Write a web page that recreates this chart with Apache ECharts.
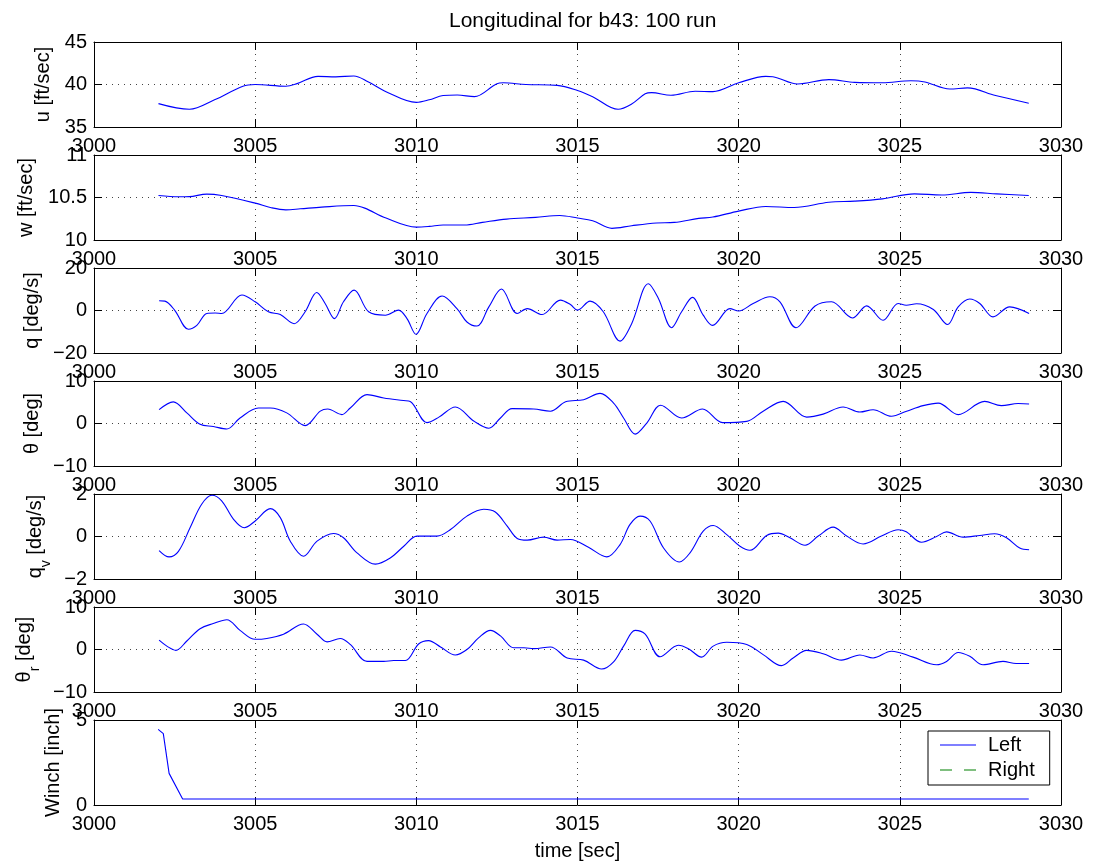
<!DOCTYPE html>
<html>
<head>
<meta charset="utf-8">
<script src="https://cdn.jsdelivr.net/npm/echarts@6/dist/echarts.min.js"></script>
<style>
  html, body { margin: 0; padding: 0; background: #fff; }
  #chart { width: 1093px; height: 865px; }
</style>
</head>
<body>
<div id="chart"></div>
<script>
// Longitudinal flight data, run 100 of b43: [time (s), value]
const uData = [[3002.0,37.75],[3002.96,37.08],[3003.74,38.2],[3004.62,39.8],[3005.0,40.0],[3005.95,39.8],[3006.3,40.1],[3006.95,40.96],[3007.5,40.9],[3008.06,41.0],[3008.5,40.33],[3009.06,39.16],[3010.0,37.9],[3010.4,38.2],[3010.83,38.7],[3011.27,38.76],[3011.8,38.57],[3012.5,40.1],[3012.7,40.2],[3013.4,40.0],[3014.37,39.9],[3015.0,39.3],[3015.47,38.57],[3016.26,37.08],[3016.68,37.7],[3017.1,38.9],[3017.3,39.04],[3017.9,38.73],[3018.65,39.2],[3019.2,39.16],[3020.0,40.2],[3020.84,40.96],[3021.06,40.92],[3021.83,40.06],[3022.8,40.57],[3023.6,40.25],[3024.46,40.2],[3025.34,40.45],[3025.78,40.3],[3026.55,39.47],[3027.1,39.6],[3027.97,38.7],[3029.0,37.8]];

const wData = [[3002.0,10.523],[3002.63,10.508],[3002.96,10.51],[3003.5,10.54],[3003.96,10.523],[3005.0,10.434],[3005.5,10.38],[3005.95,10.355],[3006.4,10.367],[3007.06,10.387],[3008.06,10.406],[3008.4,10.375],[3009.06,10.258],[3010.0,10.152],[3010.4,10.16],[3010.83,10.176],[3011.5,10.176],[3012.05,10.207],[3012.8,10.246],[3013.7,10.266],[3014.45,10.288],[3015.0,10.258],[3015.47,10.227],[3016.07,10.137],[3016.68,10.168],[3017.45,10.2],[3018.0,10.207],[3018.76,10.254],[3019.2,10.27],[3020.0,10.34],[3020.84,10.395],[3021.72,10.383],[3022.8,10.445],[3023.6,10.457],[3024.46,10.484],[3025.45,10.543],[3026.3,10.53],[3027.2,10.56],[3028.0,10.543],[3029.0,10.523]];

const qData = [[3002.02,4.6],[3002.2,4.4],[3002.5,0.2],[3002.93,-8.8],[3003.19,-7.0],[3003.5,-1.4],[3003.76,-1.2],[3003.96,-1.4],[3004.59,7.3],[3005.0,4.1],[3005.41,-0.6],[3005.78,-1.9],[3006.21,-6.2],[3006.55,-0.6],[3006.91,8.5],[3007.17,3.3],[3007.46,-3.8],[3007.74,4.1],[3008.07,9.6],[3008.52,-0.6],[3009.04,-2.2],[3009.45,0.2],[3009.71,-3.8],[3009.99,-11.2],[3010.33,-1.4],[3010.8,6.8],[3011.26,0.9],[3011.57,-5.4],[3011.88,-7.3],[3012.25,1.7],[3012.64,10.1],[3013.13,-1.4],[3013.44,0.9],[3013.9,-1.9],[3014.47,4.9],[3014.78,2.8],[3015.0,0.2],[3015.39,4.4],[3015.8,-0.6],[3016.32,-14.4],[3016.68,-6.2],[3017.2,12.6],[3017.51,5.7],[3017.92,-8.1],[3018.23,-0.6],[3018.57,6.2],[3018.9,-2.2],[3019.19,-7.0],[3019.73,0.9],[3020.0,-0.2],[3020.45,3.3],[3020.97,6.5],[3021.28,4.1],[3021.78,-8.1],[3022.37,2.1],[3022.88,4.1],[3023.53,-3.5],[3023.97,2.2],[3024.48,-4.6],[3024.95,3.3],[3025.2,2.5],[3025.52,3.2],[3026.04,0.5],[3026.48,-6.6],[3026.81,1.7],[3027.17,5.4],[3027.48,3.3],[3027.89,-3.0],[3028.41,1.7],[3029.01,-1.4]];

const thetaData = [[3002.02,3.25],[3002.46,5.1],[3002.88,2.5],[3003.29,-0.2],[3003.7,-0.7],[3004.12,-1.3],[3004.53,1.3],[3005.1,3.65],[3005.47,3.65],[3005.98,2.5],[3006.55,-0.5],[3007.02,2.9],[3007.25,3.4],[3007.69,2.1],[3007.95,3.65],[3008.47,6.8],[3008.99,6.0],[3009.6,5.4],[3009.81,5.2],[3010.33,0.2],[3010.7,1.5],[3011.21,3.9],[3011.78,0.6],[3012.25,-1.1],[3012.61,1.3],[3012.97,3.5],[3013.64,3.4],[3014.16,2.9],[3014.63,5.1],[3015.19,5.6],[3015.7,7.1],[3016.12,4.8],[3016.43,1.3],[3016.79,-2.5],[3017.15,0.1],[3017.58,4.3],[3018.23,1.3],[3018.88,3.4],[3019.5,0.2],[3020.25,0.5],[3020.76,2.9],[3021.38,5.2],[3022.11,1.5],[3022.62,2.2],[3023.24,3.9],[3023.76,2.7],[3024.17,3.25],[3024.74,1.7],[3025.21,2.9],[3025.72,4.2],[3026.19,4.8],[3026.81,2.1],[3027.63,5.2],[3028.15,4.2],[3028.67,4.7],[3029.01,4.6]];

const qvData = [[3002.02,-0.66],[3002.33,-0.96],[3002.62,-0.7],[3002.98,0.41],[3003.34,1.52],[3003.66,1.94],[3003.96,1.68],[3004.33,0.81],[3004.66,0.41],[3005.0,0.73],[3005.47,1.31],[3005.78,0.89],[3006.09,-0.22],[3006.5,-0.93],[3006.92,-0.22],[3007.43,0.14],[3007.74,-0.06],[3008.16,-0.77],[3008.73,-1.3],[3009.19,-1.01],[3009.61,-0.46],[3010.02,0.02],[3010.64,0.02],[3011.06,0.33],[3011.57,0.96],[3012.09,1.28],[3012.45,1.15],[3012.82,0.49],[3013.13,-0.09],[3013.44,-0.17],[3013.95,-0.03],[3014.37,-0.17],[3014.78,-0.14],[3015.34,-0.51],[3015.91,-0.96],[3016.32,-0.38],[3016.63,0.57],[3016.94,0.96],[3017.25,0.73],[3017.67,-0.54],[3018.16,-1.2],[3018.49,-0.77],[3018.9,0.25],[3019.21,0.52],[3019.63,0.09],[3020.04,-0.46],[3020.35,-0.65],[3020.87,0.05],[3021.23,0.16],[3021.59,-0.06],[3022.06,-0.41],[3022.47,0.02],[3022.93,0.44],[3023.35,0.02],[3023.86,-0.35],[3024.43,0.02],[3024.95,0.32],[3025.2,0.22],[3025.67,-0.27],[3026.14,0.0],[3026.45,0.22],[3026.96,-0.03],[3027.48,0.05],[3027.94,0.13],[3028.31,-0.06],[3028.72,-0.54],[3029.01,-0.62]];

const thetaRData = [[3002.02,2.2],[3002.26,0.8],[3002.54,-0.2],[3002.88,2.0],[3003.29,4.9],[3003.7,6.1],[3004.12,7.0],[3004.53,4.5],[3005.0,2.4],[3005.36,2.6],[3005.88,3.6],[3006.5,6.0],[3006.92,3.6],[3007.23,1.8],[3007.64,2.6],[3007.95,1.2],[3008.47,-2.8],[3008.99,-2.8],[3009.3,-2.6],[3009.66,-2.6],[3010.07,1.3],[3010.38,2.1],[3010.75,0.6],[3011.21,-1.3],[3011.57,0.0],[3011.94,2.8],[3012.3,4.5],[3012.61,3.2],[3013.02,0.4],[3013.34,0.4],[3013.65,0.2],[3014.16,0.6],[3014.68,-2.0],[3015.19,-2.5],[3015.75,-4.6],[3016.12,-2.9],[3016.43,0.8],[3016.79,4.5],[3017.1,3.6],[3017.56,-1.7],[3018.13,1.0],[3018.44,0.2],[3018.85,-1.8],[3019.21,0.8],[3019.63,1.7],[3020.25,1.2],[3020.76,-1.2],[3021.33,-3.8],[3021.69,-2.0],[3022.11,-0.2],[3022.62,-1.0],[3023.19,-2.5],[3023.76,-1.3],[3024.17,-2.0],[3024.74,-0.4],[3025.41,-1.8],[3026.14,-3.6],[3026.45,-2.8],[3026.81,-0.7],[3027.17,-1.6],[3027.58,-3.6],[3028.2,-2.8],[3028.61,-3.3],[3029.01,-3.3]];

const winchLeft = [[3001.99,4.45],[3002.15,4.2],[3002.33,1.86],[3002.75,0.35],[3029.0,0.35]];
const winchRight = [];

const xTicks = [3000, 3005, 3010, 3015, 3020, 3025, 3030];
// y range per panel: [min, max]
const yRanges = [[35, 45], [10, 11], [-20, 20], [-10, 10], [-2, 2], [-10, 10], [0, 5]];
const yNames = [
  'u [ft/sec]',
  'w [ft/sec]',
  'q [deg/s]',
  'θ [deg]',
  '{m|q}{s|v}{m| [deg/s]}',
  '{m|θ}{s|r}{m| [deg]}',
  'Winch [inch]'
];
const yNameGaps = [41, 58, 50, 50, 40, 52, 31];
const panelSeries = [uData, wData, qData, thetaData, qvData, thetaRData, winchLeft];
const legendNames = ['Left', 'Right'];

const FONT = 'Liberation Sans, Arial, Helvetica, sans-serif';
const PANEL_TOP = 42, PANEL_STEP = 113, PANEL_H = 85;
const LEFT_COLOR = '#0000ff', RIGHT_COLOR = '#008000';

const grids = [], xAxes = [], yAxes = [], series = [];
const dotted = { color: '#444', width: 1, type: [1, 5] };
const tickStyle = { color: '#000', width: 1 };
const plain = function (v) { return String(v).replace('-', '\u2212'); };

yRanges.forEach(function (r, i) {
  grids.push({ left: 94, right: 32, top: PANEL_TOP + PANEL_STEP * i, height: PANEL_H });
  const xmin = xTicks[0], xmax = xTicks[xTicks.length - 1];
  const xInt = xTicks[1] - xTicks[0];
  // bottom x axis with labels and vertical grid
  xAxes.push({
    type: 'value', gridIndex: i, position: 'bottom', min: xmin, max: xmax, interval: xInt,
    axisLine: { show: true, onZero: false, lineStyle: { color: '#000', width: 1 } },
    axisTick: { show: true, inside: true, length: 8, lineStyle: tickStyle },
    axisLabel: { show: true, margin: 9, color: '#000', fontSize: 20, fontFamily: FONT, formatter: plain },
    splitLine: { show: true, showMinLine: false, showMaxLine: false, lineStyle: dotted },
    name: i === yRanges.length - 1 ? 'time [sec]' : '',
    nameLocation: 'middle', nameGap: 36,
    nameTextStyle: { color: '#000', fontSize: 20, fontFamily: FONT }
  });
  // top x axis: frame and ticks only
  xAxes.push({
    type: 'value', gridIndex: i, position: 'top', min: xmin, max: xmax, interval: xInt,
    axisLine: { show: true, onZero: false, lineStyle: { color: '#000', width: 1 } },
    axisTick: { show: true, inside: true, length: 8, lineStyle: tickStyle },
    axisLabel: { show: false }, splitLine: { show: false }
  });
  const yInt = i === yRanges.length - 1 ? (r[1] - r[0]) : (r[1] - r[0]) / 2;
  yAxes.push({
    type: 'value', gridIndex: i, position: 'left', min: r[0], max: r[1], interval: yInt,
    axisLine: { show: true, onZero: false, lineStyle: { color: '#000', width: 1 } },
    axisTick: { show: true, inside: true, length: 8, lineStyle: tickStyle },
    axisLabel: { show: true, margin: 7, color: '#000', fontSize: 20, fontFamily: FONT, formatter: plain },
    splitLine: { show: true, showMinLine: false, showMaxLine: false, lineStyle: dotted },
    name: yNames[i], nameLocation: 'middle', nameGap: yNameGaps[i],
    nameTextStyle: {
      color: '#000', fontSize: 20, fontFamily: FONT,
      rich: {
        m: { fontSize: 20, fontFamily: FONT, color: '#000', verticalAlign: 'top', lineHeight: 20 },
        s: { fontSize: 14, fontFamily: FONT, color: '#000', verticalAlign: 'top', padding: [14, 0, 0, 0] }
      }
    }
  });
  yAxes.push({
    type: 'value', gridIndex: i, position: 'right', min: r[0], max: r[1], interval: yInt,
    axisLine: { show: true, onZero: false, lineStyle: { color: '#000', width: 1 } },
    axisTick: { show: true, inside: true, length: 8, lineStyle: tickStyle },
    axisLabel: { show: false }, splitLine: { show: false }
  });
  const isWinch = i === yRanges.length - 1;
  series.push({
    type: 'line', name: isWinch ? legendNames[0] : 'panel' + i,
    xAxisIndex: 2 * i, yAxisIndex: 2 * i,
    data: panelSeries[i], showSymbol: false, symbol: 'none',
    smooth: isWinch ? false : 0.35,
    lineStyle: { color: LEFT_COLOR, width: 1.1 }, itemStyle: { color: LEFT_COLOR },
    silent: true
  });
  if (isWinch) {
    series.push({
      type: 'line', name: legendNames[1], xAxisIndex: 2 * i, yAxisIndex: 2 * i,
      data: winchRight, showSymbol: false, symbol: 'none',
      lineStyle: { color: RIGHT_COLOR, width: 1.1, type: [12, 13] }, itemStyle: { color: RIGHT_COLOR },
      silent: true
    });
  }
});

const chart = echarts.init(document.getElementById('chart'), null, { renderer: 'canvas' });
chart.setOption({
  backgroundColor: '#fff',
  animation: false,
  title: {
    text: 'Longitudinal for b43: 100 run', left: 444, top: 6,
    textStyle: { color: '#000', fontSize: 21, fontWeight: 'normal', fontFamily: FONT }
  },
  legend: {
    show: true,
    data: [
      // solid and dashed line keys drawn as thin bars
      { name: legendNames[0], icon: 'path://M0,0h36v1h-36z', itemStyle: { color: LEFT_COLOR } },
      { name: legendNames[1], icon: 'path://M0,0h12v1h-12z M24,0h12v1h-12z', itemStyle: { color: RIGHT_COLOR } }
    ],
    symbolKeepAspect: false,
    orient: 'vertical', left: 928, top: 731,
    padding: [4, 15, 5, 12], itemGap: 5, itemWidth: 36, itemHeight: 1,
    backgroundColor: '#fff', borderColor: '#000', borderWidth: 1,
    selectedMode: false, z: 10,
    textStyle: { color: '#000', fontSize: 20, fontFamily: FONT, lineHeight: 20, padding: [0, 0, 0, 7] }
  },
  grid: grids,
  xAxis: xAxes,
  yAxis: yAxes,
  series: series
});
</script>
</body>
</html>
